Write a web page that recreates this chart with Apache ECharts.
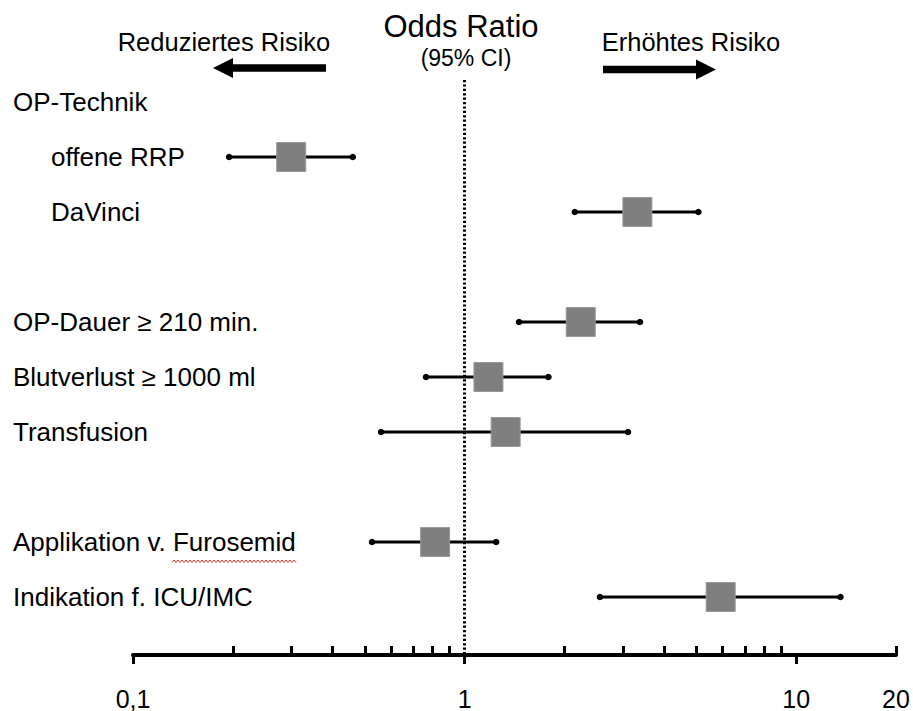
<!DOCTYPE html>
<html>
<head>
<meta charset="utf-8">
<script src="https://cdn.jsdelivr.net/npm/echarts@6/dist/echarts.min.js"></script>
<style>
  html, body { margin: 0; padding: 0; background: #fff; }
  #chart { width: 913px; height: 711px; }
</style>
</head>
<body>
<div id="chart"></div>
<script>
// Forest plot rows, top to bottom (empty strings are spacer rows)
const rowLabels = [
  'OP-Technik',
  'offene RRP',
  'DaVinci',
  '',
  'OP-Dauer \u2265 210 min.',
  'Blutverlust \u2265 1000 ml',
  'Transfusion',
  '',
  'Applikation v. Furosemid',
  'Indikation f. ICU/IMC'
];
const indentedRows = [1, 2];

// Odds ratios with 95% confidence limits (null = no estimate on that row)
const oddsRatio = [null, 0.30, 3.32, null, 2.24, 1.18, 1.33, null, 0.815, 5.92];
const ciLower   = [null, 0.195, 2.15, null, 1.46, 0.765, 0.56, null, 0.526, 2.56];
const ciUpper   = [null, 0.46, 5.07, null, 3.38, 1.79, 3.11, null, 1.245, 13.6];

// Log axis ticks
const majorTicks = [0.1, 1, 10];
const minorTicks = [0.2, 0.3, 0.4, 0.5, 0.6, 0.7, 0.8, 0.9, 2, 3, 4, 5, 6, 7, 8, 9, 20];
const tickLabels = [0.1, 1, 10, 20];
const referenceOR = 1;

const FONT = '"Liberation Sans", Arial, Helvetica, sans-serif';

const estimates = [];
const intervals = [];
rowLabels.forEach(function (_, i) {
  if (oddsRatio[i] != null) {
    estimates.push([oddsRatio[i], i]);
    intervals.push([ciLower[i], ciUpper[i], i]);
  }
});

const labelRows = [];
rowLabels.forEach(function (t, i) { if (t) labelRows.push(i); });

// red wavy spell-check underline under "Furosemid"
const squiggle = [];
for (let x = 172, k = 0; x <= 297; x += 2, k++) {
  squiggle.push([x, k % 2 ? 560 : 562.5]);
}

const chart = echarts.init(document.getElementById('chart'), null, { renderer: 'svg' });

const gridBox = { left: 133, top: 80, width: 763, height: 575 };
const yRange = { min: -0.4, max: 10.0545 };

chart.setOption({
  animation: false,
  backgroundColor: '#ffffff',
  grid: [
    Object.assign({}, gridBox),
    Object.assign({}, gridBox)
  ],
  xAxis: [
    {
      type: 'log', logBase: 10, min: 0.1, max: 20, gridIndex: 0, position: 'bottom',
      axisLine: { show: true, onZero: false, lineStyle: { color: '#000', width: 4 } },
      axisTick: { show: true, inside: false, length: 9, customValues: majorTicks,
                  lineStyle: { color: '#000', width: 3 } },
      axisLabel: {
        show: true, customValues: tickLabels, margin: 31,
        fontFamily: FONT, fontSize: 25, color: '#000',
        formatter: function (v) { return String(v).replace('.', ','); }
      },
      splitLine: { show: false }, minorTick: { show: false }
    },
    {
      type: 'log', logBase: 10, min: 0.1, max: 20, gridIndex: 1, position: 'bottom',
      axisLine: { show: false, onZero: false },
      axisTick: { show: true, inside: true, length: 9, customValues: minorTicks,
                  lineStyle: { color: '#000', width: 3 } },
      axisLabel: { show: false },
      splitLine: { show: false }
    }
  ],
  yAxis: [
    {
      type: 'value', inverse: true, min: yRange.min, max: yRange.max, gridIndex: 0,
      axisLine: { show: false }, axisTick: { show: false }, splitLine: { show: false },
      axisLabel: {
        show: true, customValues: labelRows, align: 'left', margin: 120,
        fontFamily: FONT, fontSize: 26, color: '#000',
        formatter: function (v) {
          const t = rowLabels[v] || '';
          return indentedRows.indexOf(v) >= 0 ? '{ind|' + t + '}' : '{std|' + t + '}';
        },
        rich: {
          ind: { fontFamily: FONT, fontSize: 26, color: '#000', padding: [0, 0, 0, 38] },
          std: { fontFamily: FONT, fontSize: 26, color: '#000' }
        }
      }
    },
    {
      type: 'value', inverse: true, min: yRange.min, max: yRange.max, gridIndex: 1,
      show: false
    }
  ],
  graphic: [
    { type: 'text', x: 461, y: 26,
      style: { text: 'Odds Ratio', font: '31px ' + FONT, fill: '#000', align: 'center', verticalAlign: 'middle' } },
    { type: 'text', x: 466, y: 58,
      style: { text: '(95% CI)', font: '23px ' + FONT, fill: '#000', align: 'center', verticalAlign: 'middle' } },
    { type: 'text', x: 224, y: 42,
      style: { text: 'Reduziertes Risiko', font: '25.5px ' + FONT, fill: '#000', align: 'center', verticalAlign: 'middle' } },
    { type: 'text', x: 691, y: 42,
      style: { text: 'Erh\u00f6htes Risiko', font: '25.5px ' + FONT, fill: '#000', align: 'center', verticalAlign: 'middle' } },
    // direction arrows
    { type: 'polygon',
      shape: { points: [[213, 68], [233, 58], [233, 64.3], [326, 64.3], [326, 71.7], [233, 71.7], [233, 78]] },
      style: { fill: '#000' } },
    { type: 'polygon',
      shape: { points: [[716, 69.5], [696, 59.5], [696, 65.8], [603, 65.8], [603, 73.2], [696, 73.2], [696, 79.5]] },
      style: { fill: '#000' } },
    { type: 'polyline', shape: { points: squiggle },
      style: { stroke: '#e0302a', lineWidth: 1, fill: null } }
  ],
  series: [
    {
      type: 'custom',
      xAxisIndex: 0, yAxisIndex: 0,
      data: intervals,
      z: 3,
      renderItem: function (params, api) {
        const lo = api.coord([api.value(0), api.value(2)]);
        const hi = api.coord([api.value(1), api.value(2)]);
        return {
          type: 'group',
          children: [
            { type: 'line', shape: { x1: lo[0], y1: lo[1], x2: hi[0], y2: hi[1] },
              style: { stroke: '#000', lineWidth: 3 } },
            { type: 'circle', shape: { cx: lo[0], cy: lo[1], r: 3.3 }, style: { fill: '#000' } },
            { type: 'circle', shape: { cx: hi[0], cy: hi[1], r: 3.3 }, style: { fill: '#000' } }
          ]
        };
      },
      markLine: {
        silent: true,
        symbol: ['none', 'none'],
        label: { show: false },
        lineStyle: { color: '#000', width: 3, type: [2.2, 2.2] },
        data: [{ xAxis: referenceOR }]
      }
    },
    {
      type: 'scatter',
      xAxisIndex: 0, yAxisIndex: 0,
      data: estimates,
      symbol: 'rect',
      symbolSize: 29,
      z: 4,
      itemStyle: { color: '#7f7f7f', opacity: 1, borderColor: '#999999', borderWidth: 1 }
    }
  ]
});
</script>
</body>
</html>
